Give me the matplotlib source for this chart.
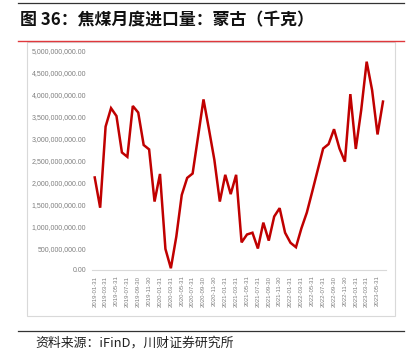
import matplotlib
matplotlib.use("Agg")
import matplotlib.pyplot as plt
from matplotlib.lines import Line2D
from matplotlib.patches import Rectangle
import matplotlib.ticker as mticker

plt.rcParams['font.family'] = ['Noto Sans CJK SC', 'DejaVu Sans']

title = "图 36：焦煤月度进口量：蒙古（千克）"
source = "资料来源：iFinD，川财证券研究所"

# monthly values 2019-01 .. 2023-06, in billions of kg
values_bn = [2.11, 1.42, 3.27, 3.69, 3.51, 2.68, 2.58, 3.74, 3.59, 2.85, 2.75, 1.56,
             2.19, 0.48, 0.04, 0.76, 1.71, 2.10, 2.20, 3.04, 3.89, 3.21, 2.51, 1.56,
             2.17, 1.73, 2.17, 0.63, 0.81, 0.85, 0.49, 1.08, 0.67, 1.22, 1.41, 0.85,
             0.62, 0.52, 0.95, 1.31, 1.79, 2.28, 2.77, 2.87, 3.21, 2.77, 2.47, 4.01,
             2.76, 3.65, 4.75, 4.10, 3.09, 3.84]
values = [v * 1e9 for v in values_bn]

tick_labels = ["2019-01-31", "2019-03-31", "2019-05-31", "2019-07-31", "2019-09-30", "2019-11-30",
               "2020-01-31", "2020-03-31", "2020-05-31", "2020-07-31", "2020-09-30", "2020-11-30",
               "2021-01-31", "2021-03-31", "2021-05-31", "2021-07-31", "2021-09-30", "2021-11-30",
               "2022-01-31", "2022-03-31", "2022-05-31", "2022-07-31", "2022-09-30", "2022-11-30",
               "2023-01-31", "2023-03-31", "2023-05-31"]
y_ticks = [0, 5e8, 1e9, 1.5e9, 2e9, 2.5e9, 3e9, 3.5e9, 4e9, 4.5e9, 5e9]

W, H = 412, 360
fig = plt.figure(figsize=(W / 100, H / 100), dpi=100)

def fx(px):
    return px / W

def fy(py):
    return 1 - py / H

# decorative lines and frame
fig.add_artist(Line2D([fx(18), fx(404)], [fy(2.7), fy(2.7)], color='#333333', lw=0.9))
fig.add_artist(Line2D([fx(18), fx(404)], [fy(40.7), fy(40.7)], color='#e0383c', lw=1.0))
fig.add_artist(Rectangle((fx(26.7), fy(316)), fx(395) - fx(26.7), fy(42) - fy(316),
                         fill=False, edgecolor='#d9d9d9', lw=0.8))
fig.add_artist(Line2D([fx(18), fx(404)], [fy(331), fy(331)], color='#333333', lw=0.9))

fig.text(fx(20.5), fy(20), title, fontsize=12.2, fontweight='bold', va='center', ha='left',
         color='#111111')
fig.text(fx(35), fy(343), source, fontsize=9.3, va='center', ha='left', color='#222222',
         style='italic')

ax = fig.add_axes([fx(92), fy(270), fx(385.7) - fx(92), fy(50.7) - fy(270)])
x = list(range(len(values)))
ax.plot(x, values, color='#c00000', lw=1.8, solid_joinstyle='miter')
ax.set_xlim(-0.5, len(values) - 0.5)
ax.set_ylim(0, 5e9)
ax.set_yticks(y_ticks)
ax.yaxis.set_major_formatter(mticker.FuncFormatter(lambda v, p: f"{v:,.2f}"))
ax.set_xticks(x[::2])
ax.set_xticklabels(tick_labels, rotation=90)
for s in ['top', 'right', 'left']:
    ax.spines[s].set_visible(False)
ax.spines['bottom'].set_color('#d9d9d9')
ax.spines['bottom'].set_linewidth(0.8)
ax.tick_params(axis='both', length=0, colors='#7f7f7f')
ax.tick_params(axis='y', labelsize=5.0, pad=4)
ax.tick_params(axis='x', labelsize=4.3, pad=4)
for lab in ax.get_yticklabels() + ax.get_xticklabels():
    lab.set_family(['Liberation Sans', 'DejaVu Sans'])
ax.patch.set_alpha(0)

fig.savefig("out.png", dpi=100)
